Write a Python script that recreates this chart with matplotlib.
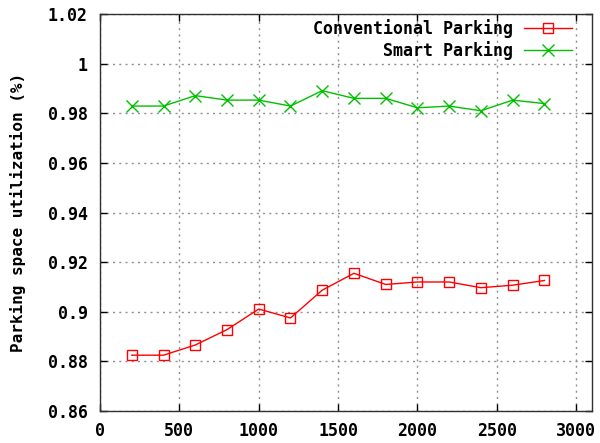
import matplotlib
matplotlib.use("Agg")
import matplotlib.pyplot as plt

# data
nodes = [200, 400, 600, 800, 1000, 1200, 1400, 1600, 1800, 2000, 2200, 2400, 2600, 2800]
conventional = [0.8825, 0.8825, 0.8866, 0.8928, 0.9011, 0.8975, 0.9087,
                0.9155, 0.9110, 0.9120, 0.9120, 0.9097, 0.9107, 0.9126]
smart = [0.9829, 0.9829, 0.9871, 0.9853, 0.9853, 0.9829, 0.9891,
         0.9860, 0.9860, 0.9822, 0.9829, 0.9810, 0.9853, 0.9839]
xticks = [0, 500, 1000, 1500, 2000, 2500, 3000]
yticks = [0.86, 0.88, 0.9, 0.92, 0.94, 0.96, 0.98, 1.0, 1.02]
ytick_labels = ["0.86", "0.88", "0.9", "0.92", "0.94", "0.96", "0.98", "1", "1.02"]

plt.rcParams["font.family"] = "DejaVu Sans Mono"
plt.rcParams["font.weight"] = "bold"

fig = plt.figure(figsize=(6, 4.43), dpi=100)
ax = fig.add_axes([0.1667, 0.0722, 0.82, 0.8962])

ax.plot(nodes, conventional, color="#ff0000", lw=1, marker="s", ms=7,
        mfc="none", mec="#ff0000", mew=1, label="Conventional Parking")
ax.plot(nodes, smart, color="#00c000", lw=1, marker="x", ms=8,
        mew=1, label="Smart Parking")

ax.set_xlim(0, 3100)
ax.set_ylim(0.86, 1.02)
ax.set_xticks(xticks)
ax.set_yticks(yticks)
ax.set_yticklabels(ytick_labels)
ax.tick_params(direction="in", top=True, right=True, length=5, labelsize=12, width=1)
ax.tick_params(axis="x", pad=8)
ax.tick_params(axis="y", pad=9)
ax.grid(True, color="#909090", linestyle=(0, (1.5, 3)), lw=1)
for s in ax.spines.values():
    s.set_linewidth(1)
    s.set_color("#303030")

ax.set_ylabel("Parking space utilization (%)", fontsize=11.5, fontweight="bold")
ax.yaxis.set_label_coords(-0.15, 0.5)

leg = ax.legend(loc="upper right", bbox_to_anchor=(0.959, 0.987),
                markerfirst=False, frameon=False, fontsize=12,
                handlelength=2.9, handletextpad=0.65, borderpad=0,
                borderaxespad=0, labelspacing=0.16)
for t in leg.get_texts():
    t.set_ha("right")

fig.savefig("out.png", dpi=100)
